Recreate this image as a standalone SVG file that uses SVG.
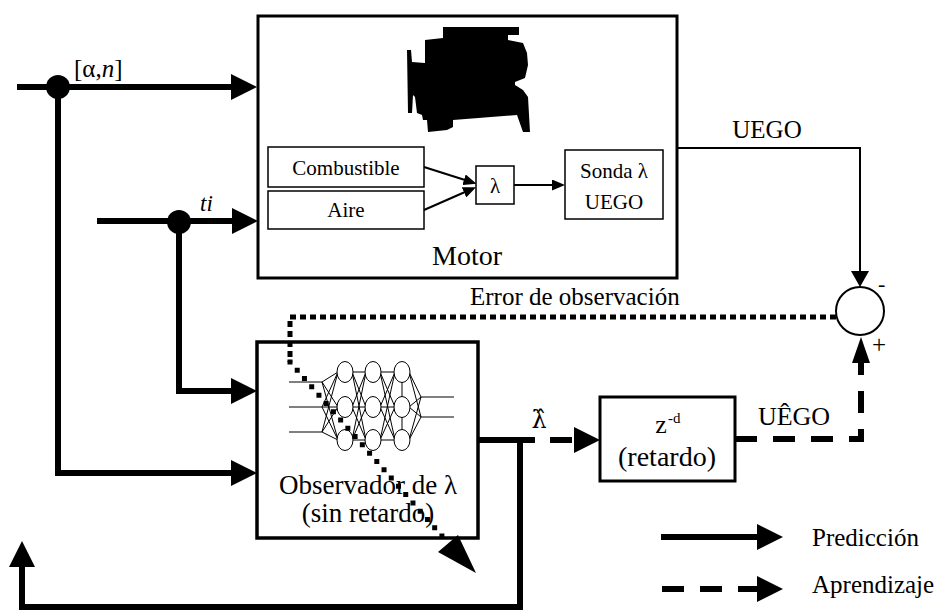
<svg xmlns="http://www.w3.org/2000/svg" width="938" height="613" viewBox="0 0 938 613">
  <style>
    text { font-family: "Liberation Serif", "DejaVu Serif", serif; fill: #000; }
    .box { fill: #fff; stroke: #000; }
    .thick { fill: none; stroke: #000; stroke-width: 6; }
    .thin { fill: none; stroke: #000; stroke-width: 2; }
    .net { fill: none; stroke: #000; stroke-width: 1; }
    .node { fill: #fff; stroke: #000; stroke-width: 1; }
    .learn { fill: none; stroke: #000; stroke-width: 6; stroke-dasharray: 22 16; }
    .dots { fill: none; stroke: #000; stroke-width: 5; stroke-dasharray: 6 4; }
    .diamonds { fill: none; stroke: #000; stroke-width: 5; stroke-dasharray: 0 11; stroke-linecap: square; }
  </style>
  <defs>
    <marker id="big" markerUnits="userSpaceOnUse" markerWidth="26" markerHeight="26" viewBox="0 0 26 26" refX="1" refY="13" orient="auto">
      <path d="M0,0 L26,13 L0,26 z" fill="#000"/>
    </marker>
    <marker id="slim" markerUnits="userSpaceOnUse" markerWidth="26" markerHeight="18" viewBox="0 0 26 18" refX="1" refY="9" orient="auto">
      <path d="M0,0 L26,9 L0,18 z" fill="#000"/>
    </marker>
    <marker id="small" markerUnits="userSpaceOnUse" markerWidth="13" markerHeight="11" viewBox="0 0 13 11" refX="1" refY="5.5" orient="auto">
      <path d="M0,0 L13,5.5 L0,11 z" fill="#000"/>
    </marker>
    <marker id="mid" markerUnits="userSpaceOnUse" markerWidth="16" markerHeight="18" viewBox="0 0 16 18" refX="1" refY="9" orient="auto">
      <path d="M0,0 L16,9 L0,18 z" fill="#000"/>
    </marker>
  </defs>

  <!-- Engine block -->
  <g id="motor">
    <rect class="box" x="258" y="16" width="419" height="262" stroke-width="3"/>
    <path fill="#000" d="M443,27 L519,27 L519,35 L508,35 L508,40 L523,43 L527,53 L528,65 L525,78 L515,82 L515,85 L523,90 L528,97 L530,132 L523,132 L517,115 L453,120 L453,127 L447,130 L428,132 L427,120 L423,120 L422,115 L417,113 L415,97 L413,95 L412,113 L408,113 L407,50 L411,50 L412,62 L425,63 L425,40 L443,38 z"/>
    <text x="467" y="265" font-size="28" text-anchor="middle">Motor</text>
  </g>
  <g id="combustible">
    <rect class="box" x="268" y="147" width="156" height="40" stroke-width="1.5"/>
    <text x="346" y="175" font-size="21" text-anchor="middle">Combustible</text>
  </g>
  <g id="aire">
    <rect class="box" x="268" y="191" width="156" height="38" stroke-width="1.5"/>
    <text x="346" y="217" font-size="21" text-anchor="middle">Aire</text>
  </g>
  <g id="lambda">
    <rect class="box" x="476" y="166" width="38" height="38" stroke-width="1.5"/>
    <text x="495" y="193" font-size="21" text-anchor="middle">λ</text>
  </g>
  <g id="sonda">
    <rect class="box" x="565" y="150" width="98" height="69" stroke-width="1.5"/>
    <text x="614" y="178" font-size="21" text-anchor="middle">Sonda λ</text>
    <text x="614" y="209" font-size="21" text-anchor="middle">UEGO</text>
  </g>

  <!-- Neural observer -->
  <g id="observador">
    <rect class="box" x="257" y="342" width="221" height="196" stroke-width="3.5"/>
    <g class="net">
      <path d="M289,382 H322 M289,407 H322 M289,432 H322"/>
      <path d="M322,382 L338,372 M322,382 L338,407 M322,382 L338,440 M322,407 L338,372 M322,407 L338,407 M322,407 L338,440 M322,432 L338,372 M322,432 L338,407 M322,432 L338,440"/>
      <path d="M352,372 L366,372 M352,372 L366,407 M352,372 L366,440 M352,407 L366,372 M352,407 L366,407 M352,407 L366,440 M352,440 L366,372 M352,440 L366,407 M352,440 L366,440"/>
      <path d="M380,372 L395,372 M380,372 L395,407 M380,372 L395,440 M380,407 L395,372 M380,407 L395,407 M380,407 L395,440 M380,440 L395,372 M380,440 L395,407 M380,440 L395,440"/>
      <path d="M402,382 V397 M402,417 V430"/>
      <path d="M409,372 L421,397 M409,372 L421,417 M409,407 L421,397 M409,407 L421,417 M409,440 L421,397 M409,440 L421,417"/>
      <path d="M421,397 H454 M421,417 H454"/>
    </g>
    <ellipse class="node" cx="345" cy="372" rx="8" ry="10.5"/>
    <ellipse class="node" cx="345" cy="407" rx="8" ry="10.5"/>
    <ellipse class="node" cx="345" cy="440" rx="8" ry="10.5"/>
    <ellipse class="node" cx="373" cy="372" rx="8" ry="10.5"/>
    <ellipse class="node" cx="373" cy="407" rx="8" ry="10.5"/>
    <ellipse class="node" cx="373" cy="440" rx="8" ry="10.5"/>
    <ellipse class="node" cx="402" cy="372" rx="8" ry="10.5"/>
    <ellipse class="node" cx="402" cy="407" rx="8" ry="10.5"/>
    <ellipse class="node" cx="402" cy="440" rx="8" ry="10.5"/>
    <text x="368" y="494" font-size="27" text-anchor="middle">Observador de λ</text>
    <text x="368" y="522" font-size="27" text-anchor="middle">(sin retardo)</text>
  </g>

  <g id="retardo">
    <rect class="box" x="600" y="397" width="135" height="84" stroke-width="3"/>
    <text x="661" y="433" font-size="26" text-anchor="middle">z</text>
    <text x="668" y="423" font-size="15">-d</text>
    <text x="667" y="466" font-size="28" text-anchor="middle">(retardo)</text>
  </g>

  <g id="suma">
    <circle cx="860" cy="311" r="24" fill="#fff" stroke="#000" stroke-width="2"/>
    <text x="878" y="291" font-size="22">-</text>
    <text x="872" y="353" font-size="25">+</text>
  </g>

  <g id="derivacion-alpha">
    <circle cx="58" cy="87" r="12" fill="#000"/>
    <text x="74" y="77" font-size="25">[α,<tspan font-style="italic">n</tspan>]</text>
  </g>
  <g id="derivacion-ti">
    <circle cx="179" cy="222" r="12" fill="#000"/>
    <text x="200" y="211" font-size="23" font-style="italic">ti</text>
  </g>

  <!-- Connectors -->
  <g id="conectores">
    <path class="thick" d="M17,87 H232" marker-end="url(#big)"/>
    <path class="thick" d="M58,87 V473 H232" marker-end="url(#big)"/>
    <path class="thick" d="M97,221 H233" marker-end="url(#big)"/>
    <path class="thick" d="M179,222 V391 H232" marker-end="url(#big)"/>

    <path class="thin" d="M424,167 L465,180" stroke-width="1.5" marker-end="url(#small)"/>
    <path class="thin" d="M424,210 L465,192" stroke-width="1.5" marker-end="url(#small)"/>
    <path class="thin" d="M514,185 H553" stroke-width="1.5" marker-end="url(#small)"/>

    <path class="thin" d="M677,148 H860 V272" marker-end="url(#mid)"/>

    <path class="thick" d="M478,440 H535"/>
    <path class="thick" d="M520,440 V607 H22 V566" marker-end="url(#big)"/>
    <path class="learn" d="M550,440 H575" stroke-dasharray="15 10" marker-end="url(#big)"/>
    <path class="learn" d="M735,439 H861 V362" marker-end="url(#slim)"/>

    <path class="dots" d="M836,317 H290 V362"/>
    <path class="diamonds" d="M290,362 L448,543"/>
    <polygon points="476,573 438,552 458,535" fill="#000"/>
  </g>

  <!-- Signal labels; estimated signals carry a circumflex -->
  <g id="etiquetas">
    <text x="767" y="138" font-size="25" text-anchor="middle">UEGO</text>
    <text x="470" y="305" font-size="25">Error de observación</text>
    <text x="539" y="428" font-size="24" text-anchor="middle" style="font-family: 'DejaVu Serif', serif">λ̂</text>
    <text x="794" y="425" font-size="26" text-anchor="middle">UÊGO</text>
  </g>

  <g id="leyenda">
    <path class="thick" d="M661,537 H758" marker-end="url(#big)"/>
    <text x="812" y="546" font-size="25">Predicción</text>
    <path class="learn" d="M662,589 H758" stroke-dasharray="21 15" marker-end="url(#big)"/>
    <text x="812" y="593" font-size="25">Aprendizaje</text>
  </g>
</svg>
